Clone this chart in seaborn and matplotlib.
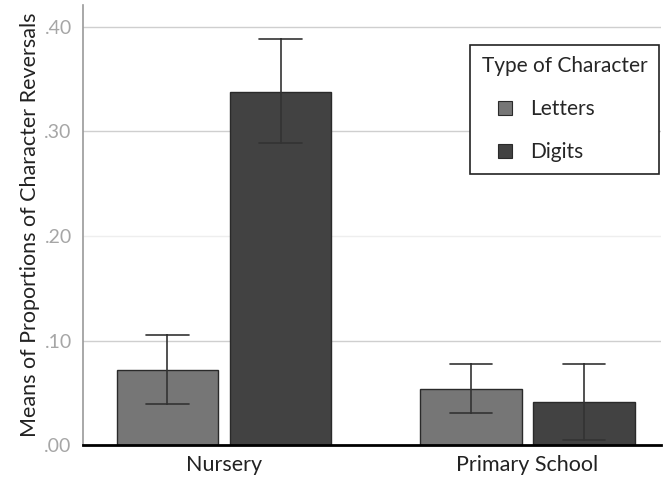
import matplotlib.pyplot as plt
import matplotlib.lines as mlines
import seaborn as sns
import pandas as pd

# values
schools = ['Nursery', 'Nursery', 'Primary School', 'Primary School']
char_type = ['Letters', 'Digits', 'Letters', 'Digits']
means = [0.072, 0.338, 0.054, 0.041]
err_low = [0.039, 0.289, 0.031, 0.005]
err_high = [0.105, 0.388, 0.078, 0.078]
colors = ['#767676', '#424242']

# three rows per bar (low, mean, high): median gives the bar, min/max the error bar
rows = []
for s, t, m, lo, hi in zip(schools, char_type, means, err_low, err_high):
    for v in (lo, m, hi):
        rows.append({'school': s, 'type': t, 'value': v})
df = pd.DataFrame(rows)

sns.set_style('white')
plt.rcParams['font.family'] = ['Lato', 'DejaVu Sans']

fig = plt.figure(figsize=(6.63, 4.87), dpi=100)
ax = fig.add_axes([0.125, 0.086, 0.872, 0.904])

sns.barplot(df, x='school', y='value', hue='type', hue_order=['Letters', 'Digits'],
            estimator='median', errorbar=lambda v: (v.min(), v.max()),
            palette=colors, width=0.745, gap=0.1,
            edgecolor='#2a2a2a', linewidth=1, capsize=0.28, legend=False,
            err_kws={'color': '#333333', 'linewidth': 1.2, 'zorder': 6}, zorder=3, ax=ax)

ax.set_xlim(-0.465, 1.44)
ax.set_ylim(0, 0.421)
ax.set_yticks([0.0, 0.1, 0.2, 0.3, 0.4])
ax.set_yticklabels(['.00', '.10', '.20', '.30', '.40'], color='#a6a6a6', fontsize=14)
ax.tick_params(axis='x', labelsize=15.5, length=0, pad=7, labelcolor='#222222')
ax.tick_params(axis='y', length=0, pad=8)
ax.yaxis.grid(True, color='#cfcfcf', linewidth=1, zorder=0)
ax.get_ygridlines()[2].set_color('#eeeeee')
ax.get_ygridlines()[0].set_visible(False)

ax.set_xlabel('')
ax.set_ylabel('Means of Proportions of Character Reversals', fontsize=15.5, color='#222222', labelpad=3)

for side in ['top', 'right']:
    ax.spines[side].set_visible(False)
ax.spines['left'].set_color('#9a9a9a')
ax.spines['left'].set_linewidth(1.2)
ax.spines['bottom'].set_color('black')
ax.spines['bottom'].set_linewidth(2)
ax.spines['bottom'].set_zorder(5)

# square markers centred in a wide handle give the indented look
letters_sq = mlines.Line2D([], [], color=colors[0], marker='s', linestyle='None',
                           markersize=9.5, markeredgecolor='#2a2a2a', markeredgewidth=0.8, label='Letters')
digits_sq = mlines.Line2D([], [], color=colors[1], marker='s', linestyle='None',
                          markersize=9.5, markeredgecolor='#2a2a2a', markeredgewidth=0.8, label='Digits')
leg = ax.legend(handles=[letters_sq, digits_sq], title='Type of Character',
                loc='upper right', bbox_to_anchor=(0.996, 0.909), borderaxespad=0,
                fontsize=15, title_fontsize=15, frameon=True, fancybox=False,
                edgecolor='#222222', handlelength=2.2, labelspacing=1.1,
                borderpad=0.55, handletextpad=0.15, framealpha=1)
leg.get_frame().set_linewidth(1.2)
leg._legend_box.align = 'left'
leg.set_zorder(10)

plt.savefig('out.png', dpi=100)
